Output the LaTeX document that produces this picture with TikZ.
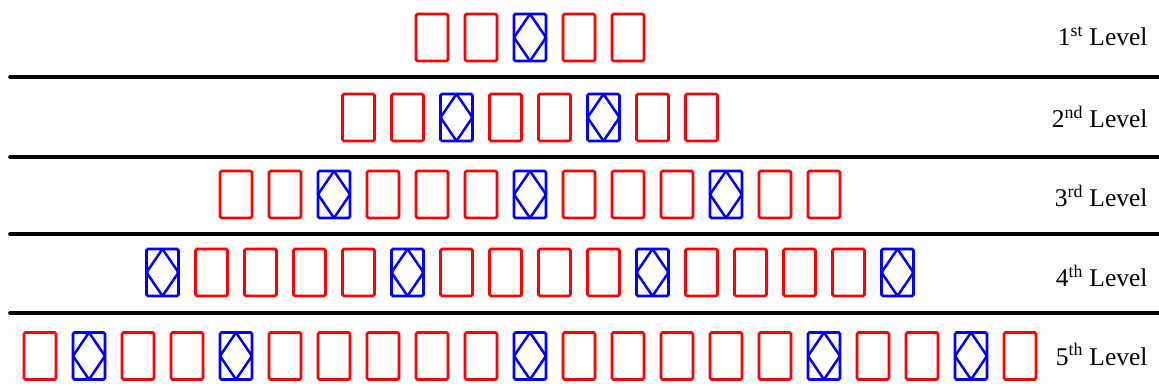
\documentclass[tikz,border=0pt]{standalone}
\usepackage{fontspec}
\setmainfont{Liberation Serif}

\begin{document}
\begin{tikzpicture}[
x=1pt, y=-1pt,
cell/.style={
draw,
line width=2.7pt,
rounded corners=1.5pt,
minimum width=32pt,
minimum height=47pt,
inner sep=0pt
},
cellP/.style={cell, draw=red},
cellD/.style={cell, draw=blue,
path picture={
\draw[blue, line width=2.5pt]
(path picture bounding box.north) -- (path picture bounding box.east)
-- (path picture bounding box.south) -- (path picture bounding box.west) -- cycle;
}},
rule/.style={line width=3.6pt, line cap=round},
lvl/.style={font=\fontsize{25.5}{30}\selectfont, anchor=base east}
]

\useasboundingbox (0,0) rectangle (1159,387);

\foreach \row/\y/\n/\pat in {
1/37.5/5/{P,P,D,P,P},
2/117.5/8/{P,P,D,P,P,D,P,P},
3/194.5/13/{P,P,D,P,P,P,D,P,P,P,D,P,P},
4/272.5/16/{D,P,P,P,P,D,P,P,P,P,D,P,P,P,P,D},
5/356/21/{P,D,P,P,D,P,P,P,P,P,D,P,P,P,P,P,D,P,P,D,P}}
\foreach \t [count=\i] in \pat
\node[cell\t] (r\row c\i) at ({530+(\i-(\n+1)/2)*49}, \y) {};

\foreach \k/\y in {1/77, 2/157, 3/234, 4/313} {
\coordinate (s\k w) at (10,\y);
\coordinate (s\k e) at (1162,\y);
\draw[rule] (s\k w) -- (s\k e);
}

\node[lvl] (lv1) at (1151,46)  {1\textsuperscript{st} Level};
\node[lvl] (lv2) at (1151,128) {2\textsuperscript{nd} Level};
\node[lvl] (lv3) at (1151,207) {3\textsuperscript{rd} Level};
\node[lvl] (lv4) at (1151,287) {4\textsuperscript{th} Level};
\node[lvl] (lv5) at (1151,365) {5\textsuperscript{th} Level};

\end{tikzpicture}
\end{document}
